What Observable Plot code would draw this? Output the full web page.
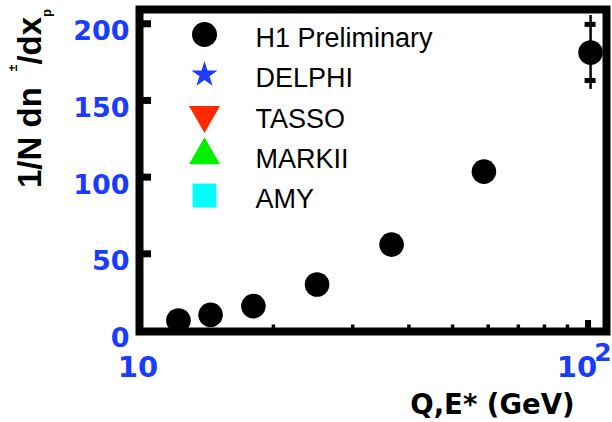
<!DOCTYPE html>
<html><head><meta charset="utf-8">
<script src="https://cdn.jsdelivr.net/npm/d3@7"></script>
<script src="https://cdn.jsdelivr.net/npm/@observablehq/plot@0.6"></script>
<style>
html,body{margin:0;padding:0;background:#fff;}
#chart{width:612px;height:422px;overflow:hidden;}
</style></head><body><div id="chart"></div>
<script>
// ---- data ----
const energies = [12.3, 14.5, 18.05, 25.0, 36.6, 58.7, 101.3];
const multiplicities = [6.5, 10.2, 15.9, 30.0, 56.0, 103.6, 181.3];
const statErrors = [0, 0, 0, 0, 0, 0, 18.3];
const totalErrors = [0, 0, 0, 0, 0, 0, 24.1];
const legendNames = ["H1 Preliminary", "DELPHI", "TASSO", "MARKII", "AMY"];
const legendSymbols = ["circle", "star", "triangle", "triangle", "square"];
const legendColors = ["#000000", "#1a3cff", "#ff2a00", "#00f000", "#00ffff"];
const legendRotations = [0, 0, 180, 0, 0];
const legendSizes = [12.5, 8.2, 11.5, 11.5, 13.5];
const yTicks = [0, 50, 100, 150, 200];
const xMinorTicks = [20, 30, 40, 50, 60, 70, 80, 90];
const xMajorTicks = [10, 100];
const xTickBases = ["10", "10"];
const xTickExps = ["", "2"];
const xDomain = [10.08, 109.9];
const yDomain = [-0.65, 209.3];
const xTitle = "Q,E* (GeV)";

const blue = "#1a3cff";
const points = energies.map((q, i) => ({q, n: multiplicities[i], stat: statErrors[i], tot: totalErrors[i]}));
const errPts = points.filter(d => d.tot > 0);
const caps = errPts.flatMap(d => [{q: d.q, y: d.n - d.stat}, {q: d.q, y: d.n + d.stat}]);

const legendMarks = legendNames.flatMap((name, i) => [
  Plot.dot([name], {frameAnchor: "top-left", dx: 65, dy: 25 + i * 40.25,
    symbol: legendSymbols[i], r: legendSizes[i], fill: legendColors[i],
    rotate: legendRotations[i], stroke: "none"}),
  Plot.text([name], {frameAnchor: "top-left", dx: 116, dy: 29 + i * 40.25, lineAnchor: "middle",
    text: d => d, textAnchor: "start", fontSize: 27, fontFamily: "Liberation Sans", fill: "#000"})
]);

const xLabelMarks = xMajorTicks.flatMap((v, i) => {
  const shift = xTickExps[i] ? -11 : 0;
  const m = [Plot.text([v], {x: d => d, frameAnchor: "bottom", dx: shift, dy: 36, lineAnchor: "middle",
    text: () => xTickBases[i], fill: blue, fontSize: 29, fontWeight: "bold", fontFamily: "DejaVu Sans"})];
  if (xTickExps[i]) m.push(Plot.text([v], {x: d => d, frameAnchor: "bottom", dx: 15, dy: 21, lineAnchor: "middle",
    text: () => xTickExps[i], fill: blue, fontSize: 25, fontWeight: "bold", fontFamily: "DejaVu Sans"}));
  return m;
});

const chart = Plot.plot({
  width: 612, height: 422,
  marginLeft: 139, marginRight: 6, marginTop: 9, marginBottom: 91,
  style: {background: "white", overflow: "visible"},
  x: {type: "log", domain: xDomain, axis: null},
  y: {domain: yDomain, axis: null},
  marks: [
    Plot.tickY(yTicks.filter(d => d > 0), {y: d => d, stroke: "black", strokeWidth: 7, insetRight: 455}),
    Plot.tickX(xMinorTicks, {x: d => d, stroke: "black", strokeWidth: 3.5, insetTop: 315.5}),
    Plot.tickX([100], {x: d => d, stroke: "black", strokeWidth: 6, insetTop: 311}),
    Plot.ruleX(errPts, {x: "q", y1: d => d.n - d.tot, y2: d => d.n + d.tot, stroke: "black", strokeWidth: 2.5}),
    Plot.ruleY(caps, {y: "y", x1: "q", x2: "q", insetLeft: -5.5, insetRight: -5.5, stroke: "black", strokeWidth: 5}),
    Plot.dot(points, {x: "q", y: "n", r: 12.3, fill: "black", stroke: "none"}),
    Plot.frame({stroke: "black", strokeWidth: 8}),
    ...legendMarks,
    Plot.text(yTicks, {y: d => d, frameAnchor: "left", dx: -10, dy: 8, textAnchor: "end", lineAnchor: "middle",
      text: d => String(d), fill: blue, fontSize: 27, fontWeight: "bold", fontFamily: "DejaVu Sans"}),
    ...xLabelMarks,
    Plot.text([xTitle], {frameAnchor: "bottom-right", dx: -32, dy: 74, textAnchor: "end", lineAnchor: "middle",
      text: d => d, fill: "black", fontSize: 27.5, fontWeight: "bold", fontFamily: "DejaVu Sans"})
  ]
});

// y-axis title with superscript / subscript
const t = d3.select(chart).append("text")
  .attr("transform", "translate(41,188) rotate(-90)")
  .attr("text-anchor", "start")
  .attr("font-family", "Liberation Sans").attr("font-weight", "bold")
  .attr("font-size", 33).attr("fill", "black");
t.append("tspan").text("1/N dn");
t.append("tspan").attr("dx", 16).attr("dy", -24).attr("font-size", 12).text("±");
t.append("tspan").attr("dy", 24).text("/dx");
t.append("tspan").attr("dy", 10).attr("font-size", 13).text("p");

document.getElementById("chart").appendChild(chart);
</script></body></html>
